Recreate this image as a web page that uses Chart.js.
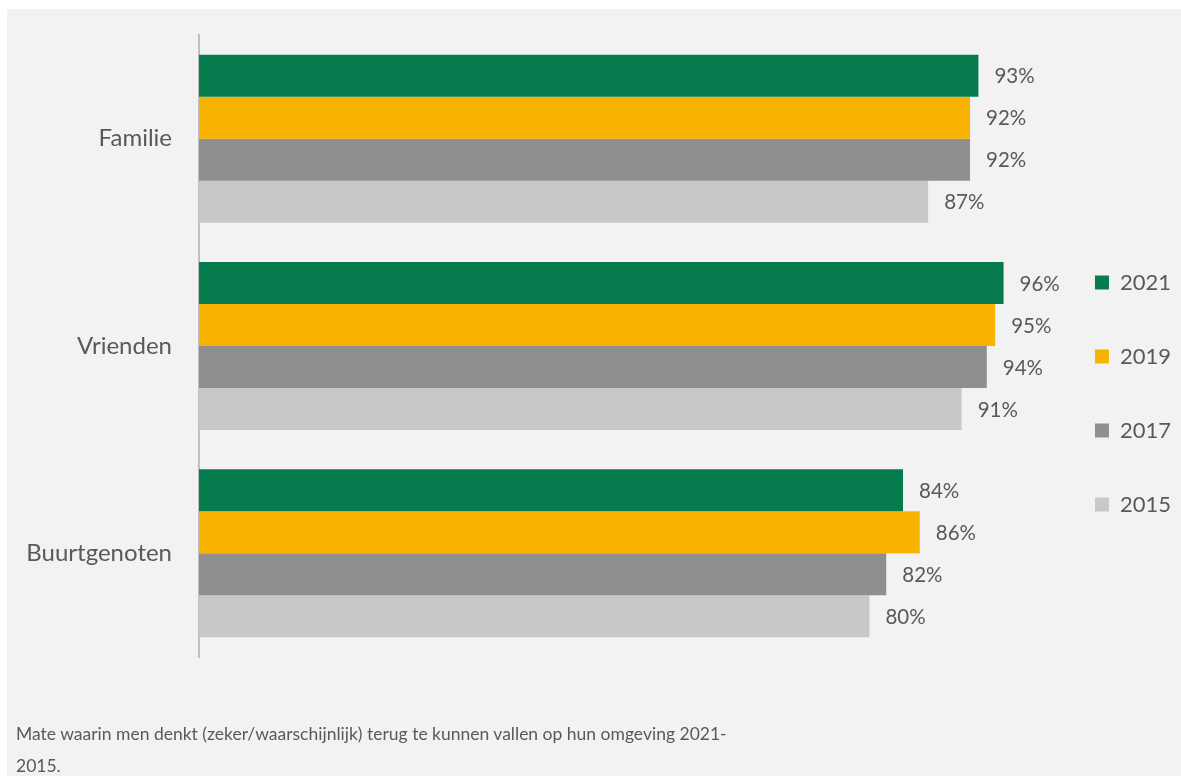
<!DOCTYPE html>
<html lang="nl">
<head>
    <meta charset="UTF-8">
    <title>Terugvallen op omgeving</title>
    <script src="https://cdn.jsdelivr.net/npm/chart.js"></script>
    <style>
        body { margin: 0; background: #ffffff; font-family: Lato, sans-serif; }
        .panel {
            position: absolute;
            left: 7px; top: 9px;
            width: 1174px; height: 767px;
            background: #f2f2f2;
        }
        .chart-box { position: absolute; left: 0; top: 0; width: 1174px; height: 767px; }
        .caption {
            position: absolute;
            left: 9px; top: 709px;
            font-size: 17.5px;
            line-height: 32px;
            color: #595959;
        }
    </style>
</head>
<body>
<div class="panel">
    <div class="chart-box"><canvas id="omgevingChart"></canvas></div>
    <div class="caption">Mate waarin men denkt (zeker/waarschijnlijk) terug te kunnen vallen op hun omgeving 2021-<br>2015.</div>
</div>

<script>
    // categories and series (percentages)
    var categories = ['Familie', 'Vrienden', 'Buurtgenoten'];
    var years = ['2021', '2019', '2017', '2015'];
    var values2021 = [93, 96, 84];
    var values2019 = [92, 95, 86];
    var values2017 = [92, 94, 82];
    var values2015 = [87, 91, 80];
    var colors = ['#067c4e', '#f8b200', '#8f8f8f', '#c8c8c8'];

    var series = [values2021, values2019, values2017, values2015];

    // draws the "93%" labels next to each bar
    var barLabels = {
        id: 'barLabels',
        afterDatasetsDraw: function(chart) {
            var ctx = chart.ctx;
            ctx.save();
            ctx.font = '20.5px Lato';
            ctx.fillStyle = '#595959';
            ctx.textAlign = 'left';
            ctx.textBaseline = 'middle';
            chart.data.datasets.forEach(function(ds, i) {
                chart.getDatasetMeta(i).data.forEach(function(bar, j) {
                    ctx.fillText(ds.data[j] + '%', bar.x + 16, bar.y + 1);
                });
            });
            ctx.restore();
        }
    };

    var ctx = document.getElementById('omgevingChart').getContext('2d');
    var omgevingChart = new Chart(ctx, {
        type: 'bar',
        data: {
            labels: categories,
            datasets: years.map(function(y, i) {
                return {
                    label: y,
                    data: series[i],
                    backgroundColor: colors[i],
                    borderWidth: 0,
                    barPercentage: 1.0,
                    categoryPercentage: 0.81
                };
            })
        },
        options: {
            indexAxis: 'y',
            responsive: true,
            maintainAspectRatio: false,
            animation: false,
            layout: { padding: { left: 0, top: 26, right: 0, bottom: 24 } },
            scales: {
                x: {
                    min: 0,
                    max: 100.7,
                    grid: { display: false, drawTicks: false },
                    border: { display: false },
                    ticks: { display: false },
                    afterFit: function(scale) { scale.height = 95; }
                },
                y: {
                    grid: { display: false, drawTicks: false },
                    border: { display: true, color: '#bfbfbf', width: 2 },
                    ticks: {
                        color: '#595959',
                        padding: 27,
                        font: { family: 'Lato', size: 24 }
                    },
                    afterFit: function(scale) {
                        scale.width = 192;
                        scale.paddingTop = 0;
                        scale.paddingBottom = 0;
                    }
                }
            },
            plugins: {
                legend: {
                    position: 'right',
                    align: 'center',
                    labels: {
                        boxWidth: 14,
                        boxHeight: 14,
                        padding: 52,
                        color: '#595959',
                        font: { family: 'Lato', size: 22 }
                    }
                },
                tooltip: { enabled: false }
            }
        },
        plugins: [barLabels]
    });
</script>
</body>
</html>
